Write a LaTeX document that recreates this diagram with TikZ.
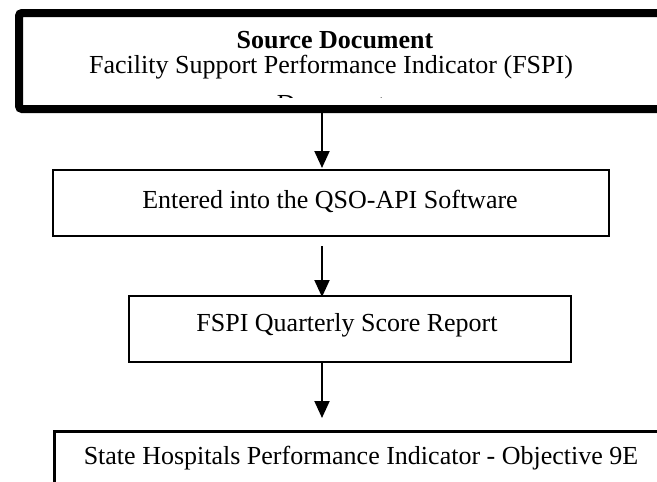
\documentclass[tikz,border=0pt]{standalone}
\usepackage{fontspec}
\setmainfont{Liberation Serif}
\usetikzlibrary{arrows.meta}
\begin{document}
\begin{tikzpicture}[x=1pt,y=-1pt,
  box/.style={draw, line width=2.5pt, rectangle, inner sep=0pt},
  lbl/.style={font=\fontsize{26}{30}\selectfont, inner sep=0pt, anchor=base},
  flow/.style={line width=2pt, -{Triangle[width=15pt,length=17pt]}}]
\useasboundingbox (0,0) rectangle (657,482);
\clip (0,0) rectangle (657,482);
% top source box
\node (src) [box, line width=8pt, rounded corners=3pt, minimum width=690pt, minimum height=96pt, anchor=north west] at (15,9) {};
\node (t1) [lbl, font=\fontsize{26}{30}\selectfont\bfseries] at (335,48) {Source Document};
\node (t2) [lbl] at (331,73) {Facility Support Performance Indicator (FSPI)};
\begin{scope}
\clip (19,13) rectangle (657,97.5);
\node (t3) [lbl] at (331,112) {Document};
\end{scope}
% second box
\node (ent) [box, minimum width=556pt, minimum height=66pt] at (331,203) {};
\node (t4) [lbl] at (330,208) {Entered into the QSO-API Software};
% third box
\node (rep) [box, minimum width=442pt, minimum height=66pt] at (350,329) {};
\node (t5) [lbl] at (347,331) {FSPI Quarterly Score Report};
% bottom box
\node (obj) [box, minimum width=700pt, minimum height=90pt, anchor=north west] at (53,430) {};
\node (t6) [lbl] at (361,464) {State Hospitals Performance Indicator - Objective 9E};
% connectors
\coordinate (c1) at (322,112);
\coordinate (c2) at (322,168);
\coordinate (c3) at (322,246);
\coordinate (c4) at (322,297);
\coordinate (c5) at (322,362);
\coordinate (c6) at (322,418);
\draw[flow] (c1) -- (c2);
\draw[flow] (c3) -- (c4);
\draw[flow] (c5) -- (c6);
\end{tikzpicture}
\end{document}
